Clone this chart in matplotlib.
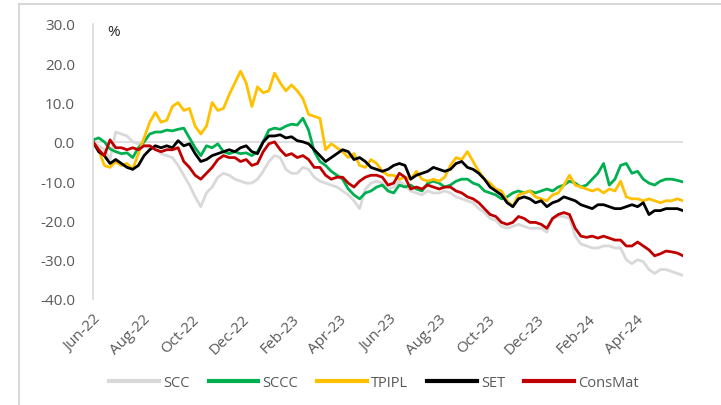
import matplotlib
matplotlib.use("Agg")
from matplotlib import pyplot as plt
import matplotlib.dates as mdates
from matplotlib.lines import Line2D
import pandas as pd

# weekly observations, % change since start of June 2022
dates = pd.date_range("2022-06-01", periods=105, freq="7D")

scc = [0, -1, -2, -4.5, 2.5, 2, 1.5, 0, -0.5, -1,
       -1.5, -1.5, -3, -3.5, -4, -6, -8.5, -11, -14, -16.5,
       -13, -11.5, -9, -8, -8.5, -9.5, -10, -10.5, -10.5, -9.5,
       -7.5, -5, -3.5, -4, -7, -8, -8, -6.5, -7, -9,
       -10, -10.5, -11, -11.5, -12.5, -13.5, -15, -17, -12, -10.5,
       -10, -10.5, -12, -11.5, -10, -11, -12.5, -13, -13.5, -12.5,
       -13, -13, -12.5, -13, -14, -14.5, -15, -15.5, -17, -18,
       -19.5, -20, -21.5, -22, -21.5, -21, -21.5, -22, -22, -22,
       -23, -19.5, -19, -19, -19.5, -24, -26, -26.5, -27, -27,
       -26.5, -26.5, -27, -27, -30, -31, -30, -30.5, -32.5, -33.5,
       -32.5, -32.5, -33, -33.5, -34]

sccc = [0.5, 1, 0, -1.8, -2.5, -3, -2.8, -4, -1.5, 0,
        2, 2.5, 2.5, 3, 2.8, 3.2, 3.5, 1, -1.5, -3.5,
        -1, -1.5, -0.5, -2.5, -3, -2.5, -3, -2.8, -3.5, -2.5,
        0, 3, 3.5, 3.2, 4, 4.5, 4.3, 6, 3, -2.5,
        -5, -6, -7.5, -8.5, -9.5, -12, -13.5, -14.5, -13, -12.5,
        -11.5, -11, -12.5, -13, -11, -11.5, -11, -12, -12.5, -10.5,
        -10, -10.5, -11.5, -11, -10, -9.5, -9.5, -10.5, -11, -12.5,
        -13, -13.5, -14.5, -14, -13, -12.5, -13, -12.5, -13, -12.5,
        -12, -12.5, -11.5, -11, -10, -10.5, -11.5, -11, -9.5, -8,
        -5.5, -11, -9.5, -6, -5.5, -8, -7.5, -9.5, -10.5, -11,
        -10, -9.5, -9.5, -9.8, -10.2]

tpipl = [0, -2, -6, -6.5, -5, -6, -5.5, -7, -3, 1,
         5, 7.5, 5, 5.5, 9, 10, 8, 8.5, 4, 2,
         4, 10, 8, 8.5, 12, 15, 18, 15, 9, 14,
         12.5, 13, 17.5, 15, 13, 14.5, 13, 11, 7, 6.5,
         6, -2, -0.5, -1.5, -2.5, -4, -3, -6, -6.5, -4.5,
         -5.5, -7.5, -8.5, -8.5, -9.5, -9, -9.5, -7.5, -9.5, -10,
         -9.5, -10, -9, -6, -4, -4.5, -2.5, -5, -7.5, -9.5,
         -10.5, -12, -12.5, -15, -16.5, -13.5, -13, -12.5, -14, -14.5,
         -15, -13.5, -13, -11, -8.5, -11, -11.5, -12, -12.5, -12,
         -13, -12, -12.5, -10, -14, -14.5, -14.5, -15, -14.5, -15,
         -15.5, -15, -15, -14.5, -15]

set_idx = [0, -2.5, -3.5, -5.5, -4.5, -5.5, -6.5, -7, -6, -3.5,
           -2, -1, -1.5, -1, -1.5, 0.3, -1, -0.5, -3, -5,
           -4.5, -3.5, -3, -2.5, -2, -2.5, -1.5, -1, -2.5, -3,
           0, 1.5, 1.5, 1.8, 1, 1.3, 0.3, 0, -0.5, -2,
           -3.5, -5, -4, -3, -2, -2.5, -4.5, -4, -5, -6.5,
           -7, -7.5, -7, -6, -5.5, -6, -9.5, -8.5, -8, -7.5,
           -6.5, -7, -7.5, -7, -5.5, -5, -6.5, -7, -8, -9.5,
           -11.5, -12.5, -13.5, -15.5, -16.5, -14.5, -14, -14.5, -15.5, -15,
           -16.5, -15.5, -15, -14, -14.5, -15, -16, -16.5, -17, -16,
           -16, -16.5, -17, -17, -16.5, -16, -16.5, -15.5, -18.5, -17.5,
           -17.5, -17, -17, -17, -17.5]

consmat = [0, -2, -3.5, 0.5, -1.5, -1.5, -2, -1.5, -2, -1,
           -1, -2, -2.5, -2, -2, -1.5, -5, -6.5, -8.5, -9.5,
           -8, -6.5, -4.5, -3.5, -4, -4, -5, -4.5, -6, -5.5,
           -2.5, -0.5, 0, -2, -3.5, -3, -4, -3.5, -4.5, -6.5,
           -6.5, -8.5, -9.5, -9, -9, -10.5, -11.5, -10, -9, -8.5,
           -8.5, -9, -11, -10.5, -8, -9, -12, -11.5, -12, -11,
           -11.5, -12, -11.5, -11.5, -12.5, -13, -14, -14.5, -15.5, -17,
           -18.5, -19, -20.5, -21, -20.5, -19, -19.5, -20.5, -20.5, -21,
           -22, -19.5, -18.5, -18, -18.5, -22, -24, -24.3, -24, -24.5,
           -24, -24.5, -25, -25, -26.5, -26.5, -25.5, -26.5, -27.5, -29,
           -28.5, -27.8, -28, -28.3, -29]

series = [("SCC", scc, "#D9D9D9"),
          ("SCCC", sccc, "#00B050"),
          ("TPIPL", tpipl, "#FFC000"),
          ("SET", set_idx, "#000000"),
          ("ConsMat", consmat, "#C00000")]

yticks = [30, 20, 10, 0, -10, -20, -30, -40]
tick_dates = pd.date_range("2022-06-01", "2024-04-01", freq="2MS")

plt.rcParams["font.family"] = ["Open Sans", "DejaVu Sans"]
txt_color = "#595959"

fig = plt.figure(figsize=(7.21, 4.06), dpi=100)
ax = fig.add_axes([93/721, 1-300/406, 590/721, 275/406])

for name, vals, col in series:
    ax.plot(dates, vals, color=col, lw=2.0, label=name, solid_joinstyle="round")

ax.axhline(0, color="#D9D9D9", lw=1.2, zorder=0)
ax.set_ylim(-40, 30)
ax.set_xlim(dates[0], dates[-1])
ax.set_yticks(yticks)
ax.set_yticklabels(["%.1f" % v for v in yticks])
ax.set_xticks(tick_dates)
ax.xaxis.set_major_formatter(mdates.DateFormatter("%b-%y"))
plt.setp(ax.get_xticklabels(), rotation=45, ha="right", rotation_mode="anchor")

for s in ["top", "right", "bottom"]:
    ax.spines[s].set_visible(False)
ax.spines["left"].set_color("#D9D9D9")
ax.spines["left"].set_linewidth(1.2)
ax.tick_params(axis="both", length=0, labelsize=11, colors=txt_color)
ax.tick_params(axis="y", pad=13)
ax.tick_params(axis="x", pad=9)

fig.text(107/721, 1-32/406, "%", fontsize=11, color="#262626", va="center")

handles = [Line2D([], [], color=c, lw=3) for _, _, c in series]
fig.legend(handles, [n for n, _, _ in series], loc="center",
           bbox_to_anchor=(374/721, 1-384/406), ncol=5, frameon=False,
           fontsize=10.5, handlelength=3.4, handletextpad=0.3,
           columnspacing=1.3, labelcolor=txt_color)

# outer chart frame (top and left edges visible)
fig.add_artist(Line2D([19/721, 1], [1-5/406, 1-5/406], color="#D9D9D9", lw=1.5))
fig.add_artist(Line2D([19/721, 19/721], [0, 1-5/406], color="#D9D9D9", lw=1.5))

fig.savefig("out.png", dpi=100)
